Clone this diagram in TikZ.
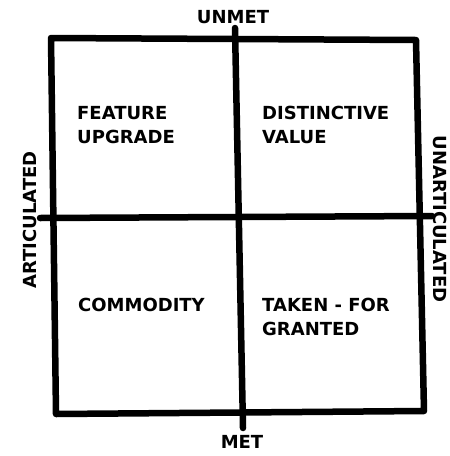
\documentclass[tikz,border=0pt]{standalone}
\usepackage{fontspec}
\setmainfont{DejaVu Sans}
\begin{document}
\begin{tikzpicture}[x=1pt,y=-1pt,
  ink/.style={line width=6.5pt,line cap=round,line join=round,black},
  axislabel/.style={font=\bfseries\fontsize{18}{23}\selectfont,inner sep=0pt},
  celllabel/.style={font=\bfseries\fontsize{18}{24}\selectfont,inner sep=0pt,align=left,anchor=north west}]
  \useasboundingbox (0,0) rectangle (450,456);

  % outer frame corners
  \coordinate (tl) at (51,38);
  \coordinate (tr) at (416,40);
  \coordinate (br) at (424,411);
  \coordinate (bl) at (56,414);
  % ends of the two dividing strokes
  \coordinate (vtop) at (235,28);
  \coordinate (vbot) at (243,428);
  \coordinate (hleft) at (40,218);
  \coordinate (hright) at (432,216);

  \draw[ink] (tl) -- (tr) -- (br) -- (bl) -- cycle;
  \draw[ink] (vtop) -- (vbot);
  \draw[ink] (hleft) -- (hright);

  % axis labels
  \node[axislabel] (unmet) at (233,17) {UNMET};
  \node[axislabel] (met) at (242,442) {MET};
  \node[axislabel,rotate=90] (art) at (30,220) {ARTICULATED};
  \node[axislabel,rotate=-90] (unart) at (440,219) {UNARTICULATED};

  % quadrant labels
  \node[celllabel] (upgrade) at (77,106) {FEATURE\\UPGRADE};
  \node[celllabel] (distinct) at (262,106) {DISTINCTIVE\\VALUE};
  \node[celllabel] (commodity) at (78,298) {COMMODITY};
  \node[celllabel] (granted) at (262,298) {TAKEN - FOR\\GRANTED};
\end{tikzpicture}
\end{document}
